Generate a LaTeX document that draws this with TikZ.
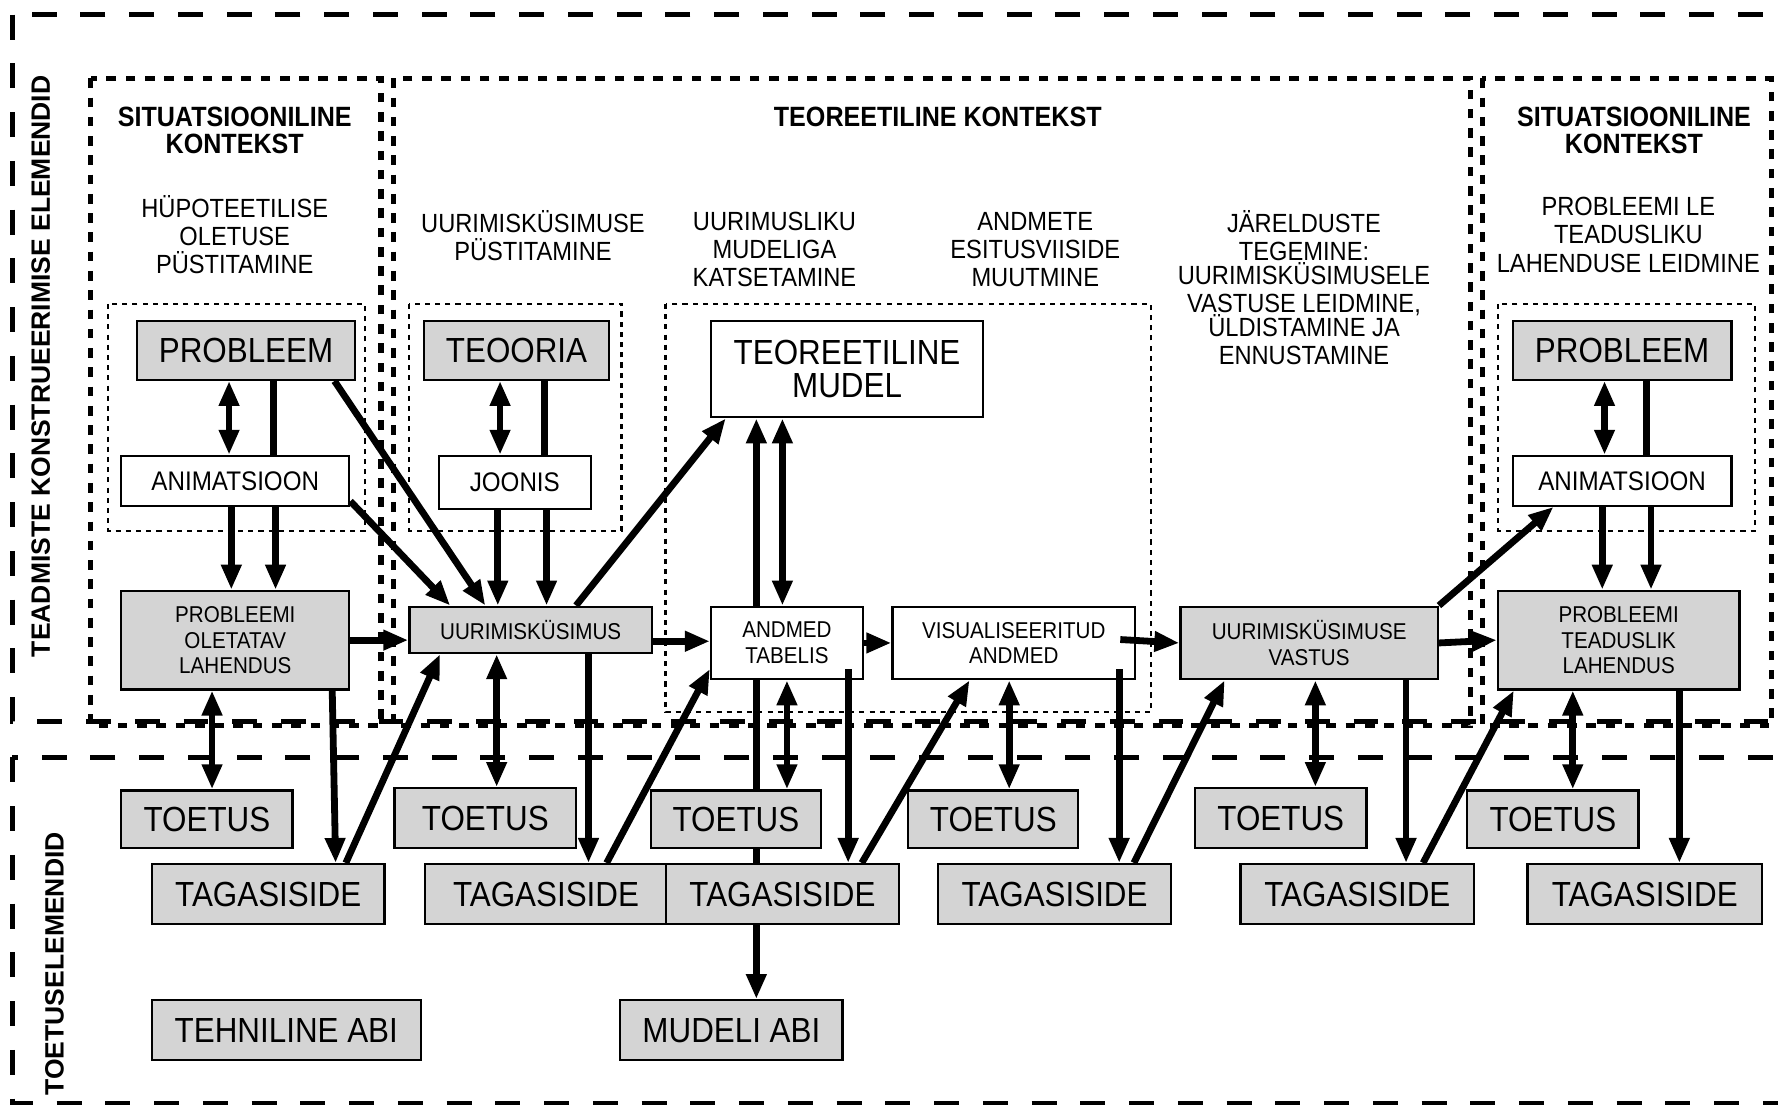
\documentclass[tikz,border=0pt]{standalone}
\usepackage{fontspec}
\setmainfont{Liberation Sans}[FakeStretch=0.9]
\newfontfamily\sidefont{Liberation Sans}
\usetikzlibrary{arrows.meta,backgrounds}
\definecolor{boxgray}{gray}{0.83}
\newcommand{\bigtxt}{\fontsize{17.5pt}{16.5pt}\selectfont}
\newcommand{\midtxt}{\fontsize{13.5pt}{15pt}\selectfont}
\newcommand{\hdtxt}{\fontsize{13.2pt}{14.2pt}\selectfont}
\newcommand{\smalltxt}{\fontsize{11.5pt}{12.8pt}\selectfont}
\newcommand{\titletxt}{\bfseries\fontsize{14pt}{13.6pt}\selectfont}
\newcommand{\sidetxt}{\sidefont\bfseries\fontsize{13.3pt}{15pt}\selectfont}
\begin{document}
\begin{tikzpicture}[x=0.02cm,y=-0.02cm,
  gbox/.style={draw,line width=0.04cm,fill=boxgray,inner sep=0pt,align=center},
  wbox/.style={draw,line width=0.04cm,fill=white,inner sep=0pt,align=center},
  arr/.style={line width=0.12cm,-{Triangle[length=0.44cm,width=0.34cm]}},
  darr/.style={line width=0.12cm,{Triangle[length=0.44cm,width=0.34cm]}-{Triangle[length=0.44cm,width=0.34cm]}},
  plain/.style={line width=0.12cm},
  region/.style={line width=0.09cm,dash pattern=on 0.44cm off 0.42cm},
  context/.style={line width=0.09cm,dash pattern=on 0.17cm off 0.17cm},
  group/.style={line width=0.04cm,dash pattern=on 0.09cm off 0.09cm}]
\useasboundingbox (0,0) rectangle (1568,974);
\draw[region] (11,13) rectangle (1600,636);
\draw[region] (11,668) rectangle (1600,973);
\draw[context] (80,69) rectangle (336,640);
\draw[context] (347,69) rectangle (1297,640);
\draw[context] (1307,69) rectangle (1562,640);
\draw[group] (95,268) rectangle (322,468);
\draw[group] (361,268) rectangle (548,468);
\draw[group] (587,268) rectangle (1015,628);
\draw[group] (1321,268) rectangle (1548,468);
\node[font=\sidetxt,rotate=90] (konstr) at (36,323) {TEADMISTE KONSTRUEERIMISE ELEMENDID};
\node[font=\sidetxt,rotate=90] (toetel) at (48,850) {TOETUSELEMENDID};
\node[font=\titletxt,align=center] (sitL) at (207,115) {SITUATSIOONILINE\\KONTEKST};
\node[font=\titletxt] (teorK) at (827,103) {TEOREETILINE KONTEKST};
\node[font=\titletxt,align=center] (sitR) at (1441,115) {SITUATSIOONILINE\\KONTEKST};
\node[font=\hdtxt,align=center] (hypot) at (207,207) {HÜPOTEETILISE\\OLETUSE\\PÜSTITAMINE};
\node[font=\hdtxt,align=center] (ukpyst) at (470,207.5) {UURIMISKÜSIMUSE\\PÜSTITAMINE};
\node[font=\hdtxt,align=center] (katse) at (683,220) {UURIMUSLIKU\\MUDELIGA\\KATSETAMINE};
\node[font=\hdtxt,align=center] (esitus) at (913,220) {ANDMETE\\ESITUSVIISIDE\\MUUTMINE};
\node[font=\hdtxt,align=center] (jareld) at (1150,253.5) {JÄRELDUSTE\\TEGEMINE:\\[-2.3pt]UURIMISKÜSIMUSELE\\VASTUSE LEIDMINE,\\[-2.3pt]ÜLDISTAMINE JA\\ENNUSTAMINE};
\node[font=\hdtxt,align=center] (lahleid) at (1436,207) {PROBLEEMI LE\\TEADUSLIKU\\LAHENDUSE LEIDMINE};
\node[gbox,font=\bigtxt,minimum width=3.84cm,minimum height=1.04cm] (probL) at (217,309) {PROBLEEM};
\node[wbox,font=\midtxt,minimum width=4.02cm,minimum height=0.88cm] (animL) at (207.5,424) {ANIMATSIOON};
\node[gbox,font=\smalltxt,minimum width=4.02cm,minimum height=1.74cm] (polah) at (207.5,564.5) {PROBLEEMI\\OLETATAV\\LAHENDUS};
\node[gbox,font=\bigtxt,minimum width=3.26cm,minimum height=1.04cm] (teooria) at (455.5,309) {TEOORIA};
\node[wbox,font=\midtxt,minimum width=2.68cm,minimum height=0.94cm] (joonis) at (454,425.5) {JOONIS};
\node[gbox,font=\smalltxt,minimum width=4.28cm,minimum height=0.82cm] (uk) at (468,555.5) {UURIMISKÜSIMUS};
\node[wbox,font=\bigtxt,minimum width=4.8cm,minimum height=1.7cm] (tmudel) at (747,325.5) {TEOREETILINE\\MUDEL};
\node[wbox,font=\smalltxt,minimum width=2.68cm,minimum height=1.28cm] (tabel) at (694,567) {ANDMED\\TABELIS};
\node[wbox,font=\smalltxt,minimum width=4.28cm,minimum height=1.28cm] (vis) at (894,567) {VISUALISEERITUD\\ANDMED};
\node[gbox,font=\smalltxt,minimum width=4.54cm,minimum height=1.28cm] (vastus) at (1154.5,567) {UURIMISKÜSIMUSE\\VASTUS};
\node[gbox,font=\bigtxt,minimum width=3.86cm,minimum height=1.04cm] (probR) at (1430.5,309) {PROBLEEM};
\node[wbox,font=\midtxt,minimum width=3.86cm,minimum height=0.88cm] (animR) at (1430.5,424) {ANIMATSIOON};
\node[gbox,font=\smalltxt,minimum width=4.26cm,minimum height=1.74cm] (ptlah) at (1427.5,564.5) {PROBLEEMI\\TEADUSLIK\\LAHENDUS};
\node[gbox,font=\bigtxt,minimum width=3.02cm,minimum height=1.02cm] (toe1) at (182.5,722.5) {TOETUS};
\node[gbox,font=\bigtxt,minimum width=4.1cm,minimum height=1.06cm] (tag1) at (236.5,788.5) {TAGASISIDE};
\node[gbox,font=\bigtxt,minimum width=3.2cm,minimum height=1.06cm] (toe2) at (428,721.5) {TOETUS};
\node[gbox,font=\bigtxt,minimum width=4.26cm,minimum height=1.06cm] (tag2) at (481.5,788.5) {TAGASISIDE};
\node[gbox,font=\bigtxt,minimum width=3.0cm,minimum height=1.02cm] (toe3) at (649,722.5) {TOETUS};
\node[gbox,font=\bigtxt,minimum width=4.12cm,minimum height=1.06cm] (tag3) at (690,788.5) {TAGASISIDE};
\node[gbox,font=\bigtxt,minimum width=3.0cm,minimum height=1.02cm] (toe4) at (876,722.5) {TOETUS};
\node[gbox,font=\bigtxt,minimum width=4.12cm,minimum height=1.06cm] (tag4) at (930,788.5) {TAGASISIDE};
\node[gbox,font=\bigtxt,minimum width=3.02cm,minimum height=1.06cm] (toe5) at (1129.5,721.5) {TOETUS};
\node[gbox,font=\bigtxt,minimum width=4.12cm,minimum height=1.06cm] (tag5) at (1197,788.5) {TAGASISIDE};
\node[gbox,font=\bigtxt,minimum width=3.02cm,minimum height=1.02cm] (toe6) at (1369.5,722.5) {TOETUS};
\node[gbox,font=\bigtxt,minimum width=4.14cm,minimum height=1.06cm] (tag6) at (1450.5,788.5) {TAGASISIDE};
\node[gbox,font=\bigtxt,minimum width=4.74cm,minimum height=1.06cm] (tehn) at (252.5,908.5) {TEHNILINE ABI};
\node[gbox,font=\bigtxt,minimum width=3.92cm,minimum height=1.06cm] (mabi) at (645,908.5) {MUDELI ABI};
\draw[darr] ([xshift=-0.3cm]probL.south) -- ([xshift=-0.3cm]probL.south |- animL.north);
\draw[plain] ([xshift=0.48cm]probL.south) -- ([xshift=0.48cm]probL.south |- animL.north);
\draw[arr] ([xshift=-0.07cm]animL.south) -- ([xshift=-0.07cm]animL.south |- polah.north);
\draw[arr] ([xshift=0.71cm]animL.south) -- ([xshift=0.71cm]animL.south |- polah.north);
\draw[arr] ([xshift=1.56cm]probL.south) -- ([xshift=-0.8cm]uk.north);
\draw[arr] ([yshift=0.1cm]animL.south east) -- ([xshift=-1.42cm]uk.north);
\draw[arr] (polah.east) -- (polah.east -| uk.west);
\draw[darr] ([xshift=-0.41cm]polah.south) -- ([xshift=-0.41cm]polah.south |- toe1.north);
\draw[arr] ([xshift=1.71cm]polah.south) -- ([xshift=1.19cm]tag1.north);
\draw[arr] ([xshift=1.37cm]tag1.north) -- ([xshift=-1.6cm]uk.south);
\draw[darr] ([xshift=-0.29cm]teooria.south) -- ([xshift=-0.29cm]teooria.south |- joonis.north);
\draw[plain] ([xshift=0.49cm]teooria.south) -- ([xshift=0.49cm]teooria.south |- joonis.north);
\draw[arr] ([xshift=-0.3cm]joonis.south) -- ([xshift=-0.3cm]joonis.south |- uk.north);
\draw[arr] ([xshift=0.56cm]joonis.south) -- ([xshift=0.56cm]joonis.south |- uk.north);
\draw[arr] ([xshift=0.8cm]uk.north) -- ([xshift=-2.14cm]tmudel.south);
\draw[arr] ([yshift=-0.2cm]uk.east) -- ([yshift=-0.2cm]uk.east -| tabel.west);
\draw[darr] ([xshift=-0.6cm]uk.south) -- ([xshift=-0.6cm]uk.south |- toe2.north);
\draw[arr] ([xshift=1.02cm]uk.south) -- ([xshift=1.02cm]uk.south |- tag2.north);
\draw[arr] ([xshift=1.07cm]tag2.north) -- ([yshift=-0.46cm]tabel.west);
\draw[arr] ([xshift=-0.54cm]tabel.north) -- ([xshift=-0.54cm]tabel.north |- tmudel.south);
\draw[darr] ([xshift=-0.08cm]tabel.north) -- ([xshift=-0.08cm]tabel.north |- tmudel.south);
\draw[arr] (tabel.east) -- (vis.west);
\draw[darr] (tabel.south) -- (tabel.south |- toe3.north);
\draw[arr] ([xshift=1.08cm,yshift=0.2cm]tabel.south) -- ([xshift=1.08cm]tabel.south |- tag3.north);
\draw[arr] ([xshift=1.4cm]tag3.north) -- ([xshift=-0.78cm]vis.south);
\begin{pgfonlayer}{background}
\draw[arr] ([xshift=-0.54cm]tabel.south) -- ([xshift=-0.54cm]tabel.south |- mabi.north);
\end{pgfonlayer}
\draw[darr] ([xshift=-0.08cm]vis.south) -- ([xshift=-0.08cm]vis.south |- toe4.north);
\draw[arr] ([xshift=1.86cm,yshift=0.2cm]vis.south) -- ([xshift=1.86cm]vis.south |- tag4.north);
\draw[arr] ([xshift=-0.28cm,yshift=0.06cm]vis.east) -- (vastus.west);
\draw[arr] ([xshift=1.4cm]tag4.north) -- ([xshift=-1.49cm]vastus.south);
\draw[darr] ([xshift=0.11cm]vastus.south) -- ([xshift=0.11cm]vastus.south |- toe5.north);
\draw[arr] ([xshift=1.71cm]vastus.south) -- ([xshift=1.71cm]vastus.south |- tag5.north);
\draw[arr] ([xshift=1.16cm]tag5.north) -- ([xshift=-1.85cm]ptlah.south);
\draw[arr] (vastus.east) -- (ptlah.west);
\draw[arr] (vastus.north east) -- ([xshift=-1.21cm]animR.south);
\draw[darr] ([xshift=-0.31cm]probR.south) -- ([xshift=-0.31cm]probR.south |- animR.north);
\draw[plain] ([xshift=0.43cm]probR.south) -- ([xshift=0.43cm]probR.south |- animR.north);
\draw[arr] ([xshift=-0.35cm]animR.south) -- ([xshift=-0.35cm]animR.south |- ptlah.north);
\draw[arr] ([xshift=0.51cm]animR.south) -- ([xshift=0.51cm]animR.south |- ptlah.north);
\draw[darr] ([xshift=-0.81cm]ptlah.south) -- ([xshift=-0.81cm]ptlah.south |- toe6.north);
\draw[arr] ([xshift=1.07cm]ptlah.south) -- ([xshift=1.07cm]ptlah.south |- tag6.north);
\end{tikzpicture}
\end{document}
